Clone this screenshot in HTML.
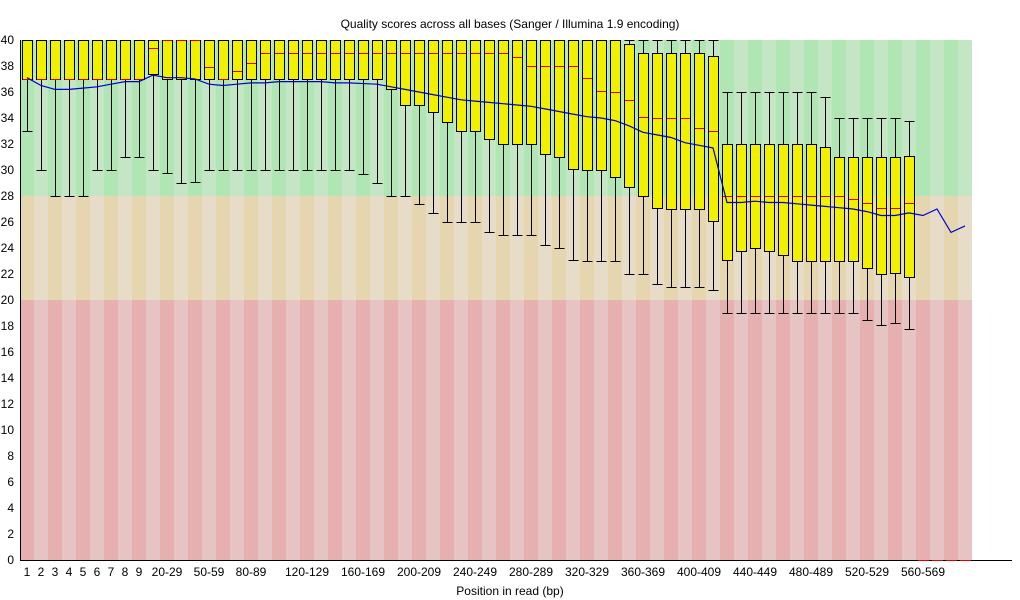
<!DOCTYPE html>
<html><head><meta charset="utf-8"><style>
html,body{margin:0;padding:0;background:#fff;}
svg{display:block;font-family:"Liberation Sans",sans-serif;}
</style></head><body>
<svg id="s" width="1020" height="600" xmlns="http://www.w3.org/2000/svg"></svg>
<script>
const s=document.getElementById('s');
const Y=q=>Math.round(560-13*q);
let h='';
const N=68,X0=20,W=14;
for(let i=0;i<N;i++){
  const x=X0+i*W, d=i%2==0;
  h+=`<rect x="${x}" y="40" width="${W}" height="156" fill="${d?'#b0e6b4':'#c4e6c4'}"/>`;
  h+=`<rect x="${x}" y="196" width="${W}" height="104" fill="${d?'#e6d6b0':'#e6dcc8'}"/>`;
  h+=`<rect x="${x}" y="300" width="${W}" height="260" fill="${d?'#e6b0b0':'#e6c4c4'}"/>`;
}
const B=[];
const lo0=[33,30,28,28,28,30,30,31,31];
lo0.forEach(l=>B.push([40,37,37,l,40]));
B.push([40,39.4,37.4,30,40],[40,40,37,29.8,40],[40,40,37,29,40],[40,40,37,29.1,40],
[40,37.9,37,30,40],[40,37,37,30,40],[40,37.6,37,30,40],[40,38.2,37,30,40]);
for(let i=17;i<=23;i++)B.push([40,39,37,30,40]);
[[37,29.7],[37,29],[36.2,28],[35,28],[35,27.4],[34.5,26.7],[33.7,26],[33,26],[33,26],[32.4,25.2],[32,25]]
.forEach(a=>B.push([40,39,a[0],a[1],40]));
[[38.7,32,25],[38,32,25],[38,31.2,24.2],[38,31,24],[38,30.1,23.1],[37.1,30,23],[36.1,30,23],[36,29.5,23]]
.forEach(a=>B.push([40,a[0],a[1],a[2],40]));
[[39.7,35.4,28.7,22],[39,34.1,28,22],[39,34,27.05,21.2],[39,34,27,21],[39,34,27,21],[39,33.2,27,21],[38.8,33,26.1,20.8]]
.forEach(a=>B.push([a[0],a[1],a[2],a[3],40]));
B.push([32,28,23.1,19,36],[32,28,23.75,19,36],[32,28,24,19,36],[32,28,23.8,19,36],[32,28,23.5,19,36],[32,28,23,19,36],[32,28,23,19,36],
[31.75,28,23,19,35.6],[31,28,23,19,34],[31,27.8,23,19,34],[31,27.5,22.5,18.5,34],[31,27.05,22,18.1,34],[31,27.1,22.1,18.2,34],[31.1,27.5,21.8,17.8,33.8]);
let g='';
B.forEach((b,i)=>{
  const c=X0+i*W+7.5,bx=X0+i*W+2.5;
  const [t,m,bo,lo,hi]=b;
  g+=`<line x1="${c}" y1="${Y(hi)}" x2="${c}" y2="${Y(t)}" stroke="#000"/>`;
  g+=`<line x1="${c}" y1="${Y(bo)}" x2="${c}" y2="${Y(lo)}" stroke="#000"/>`;
  g+=`<line x1="${bx}" y1="${Y(hi)+.5}" x2="${bx+10}" y2="${Y(hi)+.5}" stroke="#000"/>`;
  g+=`<line x1="${bx}" y1="${Y(lo)+.5}" x2="${bx+10}" y2="${Y(lo)+.5}" stroke="#000"/>`;
  g+=`<rect x="${bx}" y="${Y(t)+.5}" width="10" height="${Y(bo)-Y(t)}" fill="#f0f000" stroke="#000"/>`;
  g+=`<line x1="${bx+.5}" y1="${Y(m)+.5}" x2="${bx+9.5}" y2="${Y(m)+.5}" stroke="#e00000"/>`;
});
h+=`<g shape-rendering="crispEdges">${g}</g>`;
const M=[37.1,36.5,36.2,36.2,36.3,36.4,36.6,36.8,36.8,37.3,37.1,37.1,37.0,36.6,36.5,36.6,36.7,36.7,36.8,36.8,36.8,36.8,36.7,36.7,36.65,36.6,36.4,36.2,36.0,35.8,35.6,35.4,35.3,35.2,35.1,35.0,34.9,34.7,34.5,34.3,34.1,34.0,33.8,33.4,32.9,32.7,32.5,32.1,31.9,31.7,27.5,27.5,27.6,27.5,27.5,27.4,27.3,27.2,27.1,27.0,26.8,26.5,26.5,26.7,26.5,27.0,25.2,25.7];
h+=`<polyline fill="none" stroke="#0000d0" stroke-width="1.2" points="${M.map((m,i)=>(X0+i*W+7)+','+(560-13*m)).join(' ')}"/>`;
h+=`<g shape-rendering="crispEdges"><line x1="20.5" y1="40" x2="20.5" y2="560" stroke="#000"/><line x1="20" y1="560.5" x2="1012" y2="560.5" stroke="#000"/>`;
for(let i=64;i<68;i++){const bx=X0+i*W+2;h+=`<line x1="${bx}" y1="560.5" x2="${bx+11}" y2="560.5" stroke="#e00000"/>`;}
h+='</g>';
for(let q=0;q<=40;q+=2)h+=`<text x="14" y="${Y(q)+4}" font-size="12" text-anchor="end">${q}</text>`;
const L=[[0,'1'],[1,'2'],[2,'3'],[3,'4'],[4,'5'],[5,'6'],[6,'7'],[7,'8'],[8,'9'],[10,'20-29'],[13,'50-59'],[16,'80-89'],[20,'120-129'],[24,'160-169'],[28,'200-209'],[32,'240-249'],[36,'280-289'],[40,'320-329'],[44,'360-369'],[48,'400-409'],[52,'440-449'],[56,'480-489'],[60,'520-529'],[64,'560-569']];
L.forEach(([i,t])=>h+=`<text x="${X0+i*W+7}" y="576" font-size="12" text-anchor="middle">${t}</text>`);
h+=`<text x="510" y="28" font-size="12" text-anchor="middle">Quality scores across all bases (Sanger / Illumina 1.9 encoding)</text>`;
h+=`<text x="510" y="595" font-size="12" text-anchor="middle">Position in read (bp)</text>`;
s.innerHTML=h;
</script>
</body></html>
